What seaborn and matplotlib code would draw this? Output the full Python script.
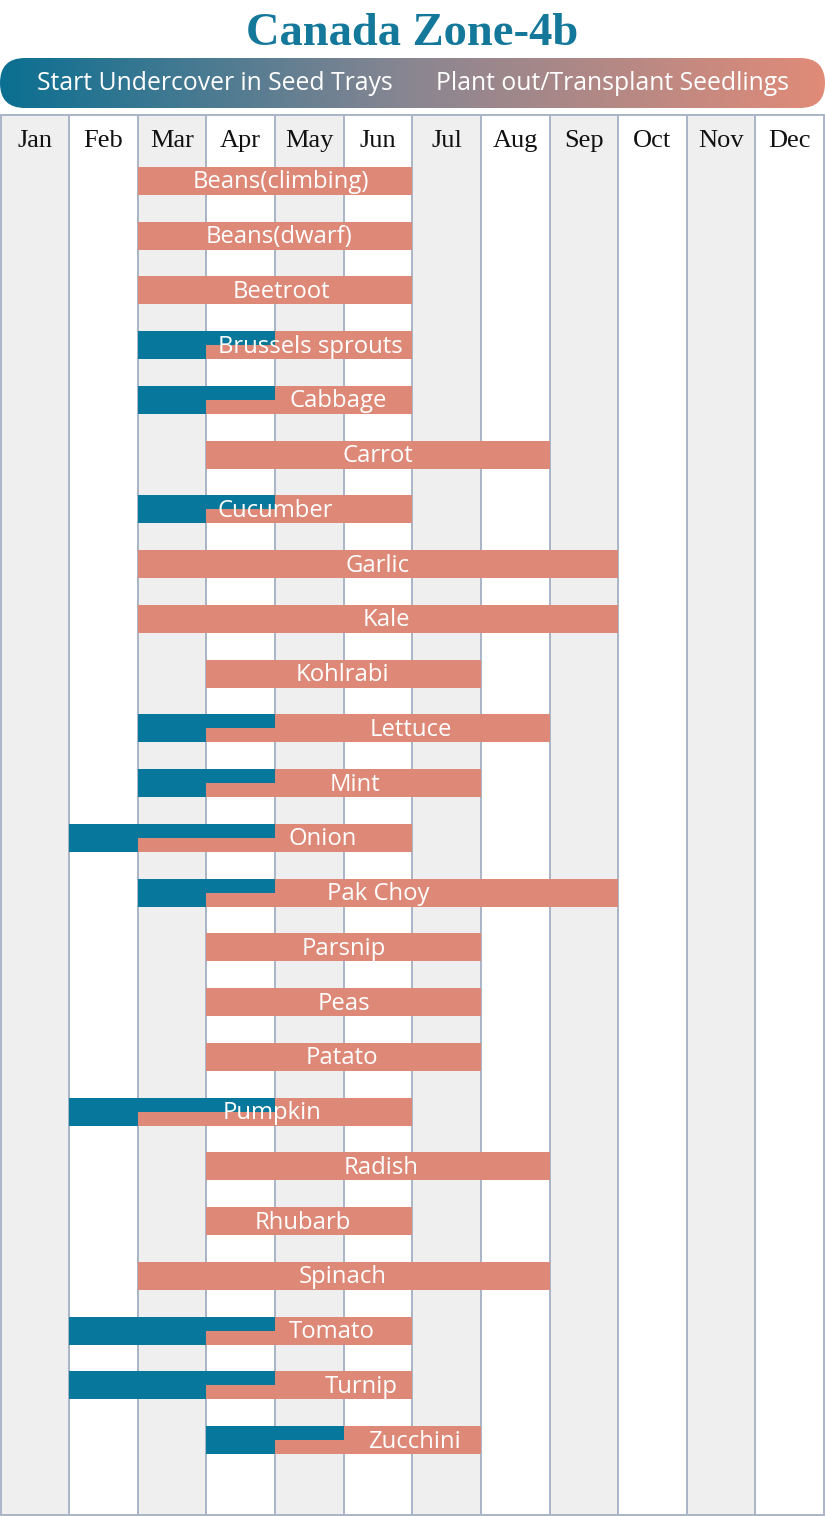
import numpy as np
import pandas as pd
import matplotlib
matplotlib.use("Agg")
import matplotlib.pyplot as plt
import seaborn as sns
from matplotlib.patches import FancyBboxPatch
from matplotlib.colors import LinearSegmentedColormap

# ---------------- data ----------------
months = ["Jan", "Feb", "Mar", "Apr", "May", "Jun", "Jul", "Aug", "Sep", "Oct", "Nov", "Dec"]
crops = ["Beans(climbing)", "Beans(dwarf)", "Beetroot", "Brussels sprouts", "Cabbage", "Carrot",
         "Cucumber", "Garlic", "Kale", "Kohlrabi", "Lettuce", "Mint", "Onion", "Pak Choy",
         "Parsnip", "Peas", "Patato", "Pumpkin", "Radish", "Rhubarb", "Spinach", "Tomato",
         "Turnip", "Zucchini"]
# month index (Jan = 0); end is exclusive month boundary
plant_start = [2, 2, 2, 3, 3, 3, 3, 2, 2, 3, 3, 3, 2, 3, 3, 3, 3, 2, 3, 3, 2, 3, 3, 4]
plant_end   = [6, 6, 6, 6, 6, 8, 6, 9, 9, 7, 8, 7, 6, 9, 7, 7, 7, 6, 8, 6, 8, 6, 6, 7]
under_start = [None, None, None, 2, 2, None, 2, None, None, None, 2, 2, 1, 2, None, None, None,
               1, None, None, None, 1, 1, 3]
under_end   = [None, None, None, 4, 4, None, 4, None, None, None, 4, 4, 4, 4, None, None, None,
               4, None, None, None, 4, 4, 5]
title = "Canada Zone-4b"
legend_left = "Start Undercover in Seed Trays"
legend_right = "Plant out/Transplant Seedlings"

# ---------------- layout / style ----------------
label_x = [4.08, 4.06, 4.09, 4.51, 4.92, 5.5, 4.0, 5.5, 5.62, 4.98, 5.98, 5.17, 4.69, 5.5,
           5.0, 5.0, 4.97, 3.96, 5.55, 4.41, 4.98, 4.82, 5.26, 6.03]
TEAL = "#07779c"
SALMON = "#de8977"
GREY = "#efefef"
LINE = "#a9b5c7"
TITLE_C = "#13789a"
W, H = 825, 1516

sns.set_theme(style="white")
plt.rcParams["font.family"] = ["Open Sans", "DejaVu Sans"]

df = pd.DataFrame({"crop": crops, "plant_start": plant_start, "plant_end": plant_end,
                   "under_start": under_start, "under_end": under_end})

fig = plt.figure(figsize=(W / 100, H / 100), dpi=100)
fig.patch.set_facecolor("white")

def px_axes(x0, y0, x1, y1):
    return fig.add_axes([x0 / W, 1 - y1 / H, (x1 - x0) / W, (y1 - y0) / H])

# ---------------- title ----------------
fig.text(0.5, 1 - 34 / H, title, ha="center", va="center", color=TITLE_C,
         fontsize=33.5, fontweight="bold", family=["Liberation Serif", "DejaVu Serif"])

# ---------------- gradient banner ----------------
bax = px_axes(0, 58, 825, 108)
bax.set_xlim(0, 825)
bax.set_ylim(0, 50)
bax.axis("off")
cmap = LinearSegmentedColormap.from_list("g", ["#0b6f92", "#8a8691", "#e18b78"])
grad = np.linspace(0, 1, 512).reshape(1, -1)
im = bax.imshow(grad, aspect="auto", cmap=cmap, extent=[0, 825, 0, 50])
box = FancyBboxPatch((0, 0), 825, 50, boxstyle="round,pad=0,rounding_size=25",
                     transform=bax.transData, facecolor="none", edgecolor="none")
bax.add_patch(box)
im.set_clip_path(box)
bax.text(215, 24, legend_left, ha="center", va="center", color="white", fontsize=17.8,
         fontweight="medium")
bax.text(612, 24, legend_right, ha="center", va="center", color="white", fontsize=17.8,
         fontweight="medium")

# ---------------- main grid ----------------
ax = px_axes(0.5, 115, 824, 1515)
n = len(crops)
pitch = 54.74
y_top = (115 - 181) / pitch
y_bot = (1515 - 181) / pitch
bh = 28 / pitch

for i in range(12):
    if i % 2 == 0:
        ax.axvspan(i, i + 1, color=GREY, zorder=0, lw=0)

sns.barplot(data=df, x="plant_end", y="crop", orient="h", color=SALMON, saturation=1,
            width=bh, ax=ax, zorder=2, linewidth=0)
cont = ax.containers[-1]
for p, s, e in zip(cont.patches, plant_start, plant_end):
    p.set_x(s)
    p.set_width(e - s)

for i, row in df.iterrows():
    if pd.notna(row.under_start):
        ax.barh(i, row.under_end - row.under_start, left=row.under_start, height=bh,
                color=TEAL, lw=0, zorder=3)
        ax.barh(i + bh / 4, row.under_end - row.plant_start, left=row.plant_start,
                height=bh / 2, color=SALMON, lw=0, zorder=4)
    ax.text(label_x[i], i + 1.5 / pitch, row.crop, ha="center", va="center", color="white",
            fontsize=17.2, zorder=6)

for i in range(13):
    ax.axvline(i, color=LINE, lw=1.4, zorder=1, clip_on=False)
ax.axhline(y_top, color=LINE, lw=1.4, zorder=1, clip_on=False)
ax.axhline(y_bot, color=LINE, lw=1.4, zorder=1, clip_on=False)

for i, m in enumerate(months):
    ax.text(i + 0.5, (141 - 181) / pitch, m, ha="center", va="center", color="#111111",
            fontsize=19, family=["Liberation Serif", "DejaVu Serif"], zorder=6)

ax.set_xlim(0, 12)
ax.set_ylim(y_bot, y_top)
ax.set_xlabel("")
ax.set_ylabel("")
ax.set_xticks([])
ax.set_yticks([])
for sp in ax.spines.values():
    sp.set_visible(False)

fig.savefig("out.png", dpi=100)
